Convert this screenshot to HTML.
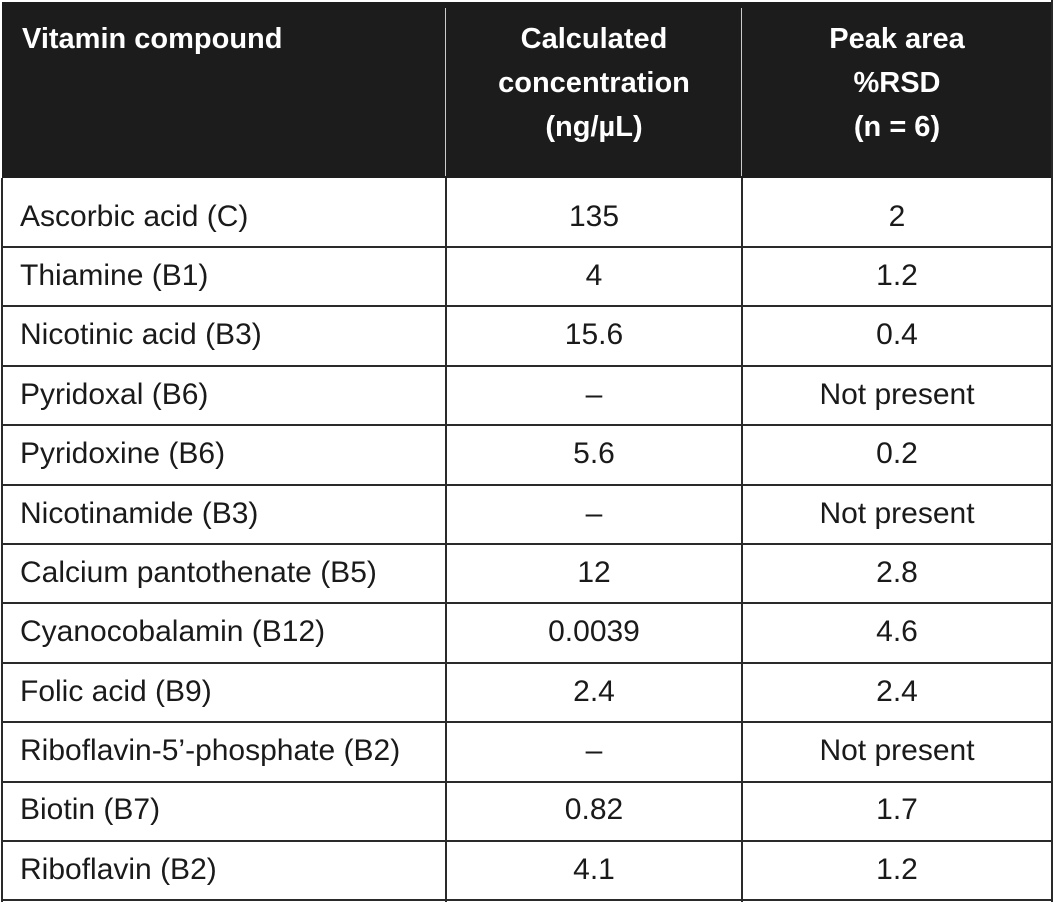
<!DOCTYPE html>
<html><head><style>
body{margin:0;background:#fff;width:1054px;height:904px;overflow:hidden;font-family:"Liberation Sans",sans-serif;position:relative;}
.hd{position:absolute;left:2px;top:2px;width:1050px;height:176px;background:#1c1c1c;}
.h{position:absolute;color:#fff;font-weight:bold;font-size:29px;line-height:44px;}
.vl{position:absolute;width:2px;background:#2a2a2a;}
.hl{position:absolute;left:2px;width:1050px;height:2px;background:#2a2a2a;}
.r{position:absolute;left:0;width:1054px;height:32px;font-size:30px;color:#1a1a1a;line-height:32px;}
.r span{position:absolute;top:0;white-space:nowrap;}
.a{left:20px;}
.b{left:446px;width:296px;text-align:center;}
.c{left:742px;width:310px;text-align:center;}
</style></head><body>
<div class="hd"></div>
<div class="vl" style="left:445px;top:8px;height:168px;background:#ccc;width:1px"></div>
<div class="vl" style="left:741px;top:8px;height:168px;background:#ccc;width:1px"></div>
<div class="h" style="left:22px;top:17px">Vitamin compound</div>
<div class="h" style="left:446px;width:296px;top:17px;text-align:center">Calculated<br>concentration<br>(ng/µL)</div>
<div class="h" style="left:742px;width:310px;top:17px;text-align:center">Peak area<br>%RSD<br>(n = 6)</div>
<div class="vl" style="left:1px;top:178px;height:724px"></div>
<div class="vl" style="left:1051px;top:0;height:902px"></div>
<div class="vl" style="left:445px;top:178px;height:724px"></div>
<div class="vl" style="left:741px;top:178px;height:724px"></div>

<div class="hl" style="top:246px"></div>
<div class="hl" style="top:305px"></div>
<div class="hl" style="top:365px"></div>
<div class="hl" style="top:424px"></div>
<div class="hl" style="top:484px"></div>
<div class="hl" style="top:543px"></div>
<div class="hl" style="top:602px"></div>
<div class="hl" style="top:662px"></div>
<div class="hl" style="top:721px"></div>
<div class="hl" style="top:781px"></div>
<div class="hl" style="top:840px"></div>
<div class="hl" style="top:899px"></div>

<div class="r" style="top:201px"><span class="a">Ascorbic acid (C)</span><span class="b">135</span><span class="c">2</span></div>
<div class="r" style="top:260px"><span class="a">Thiamine (B1)</span><span class="b">4</span><span class="c">1.2</span></div>
<div class="r" style="top:319px"><span class="a">Nicotinic acid (B3)</span><span class="b">15.6</span><span class="c">0.4</span></div>
<div class="r" style="top:379px"><span class="a">Pyridoxal (B6)</span><span class="b">–</span><span class="c">Not present</span></div>
<div class="r" style="top:438px"><span class="a">Pyridoxine (B6)</span><span class="b">5.6</span><span class="c">0.2</span></div>
<div class="r" style="top:498px"><span class="a">Nicotinamide (B3)</span><span class="b">–</span><span class="c">Not present</span></div>
<div class="r" style="top:557px"><span class="a">Calcium pantothenate (B5)</span><span class="b">12</span><span class="c">2.8</span></div>
<div class="r" style="top:616px"><span class="a">Cyanocobalamin (B12)</span><span class="b">0.0039</span><span class="c">4.6</span></div>
<div class="r" style="top:676px"><span class="a">Folic acid (B9)</span><span class="b">2.4</span><span class="c">2.4</span></div>
<div class="r" style="top:735px"><span class="a">Riboflavin-5’-phosphate (B2)</span><span class="b">–</span><span class="c">Not present</span></div>
<div class="r" style="top:794px"><span class="a">Biotin (B7)</span><span class="b">0.82</span><span class="c">1.7</span></div>
<div class="r" style="top:854px"><span class="a">Riboflavin (B2)</span><span class="b">4.1</span><span class="c">1.2</span></div>
</body></html>
